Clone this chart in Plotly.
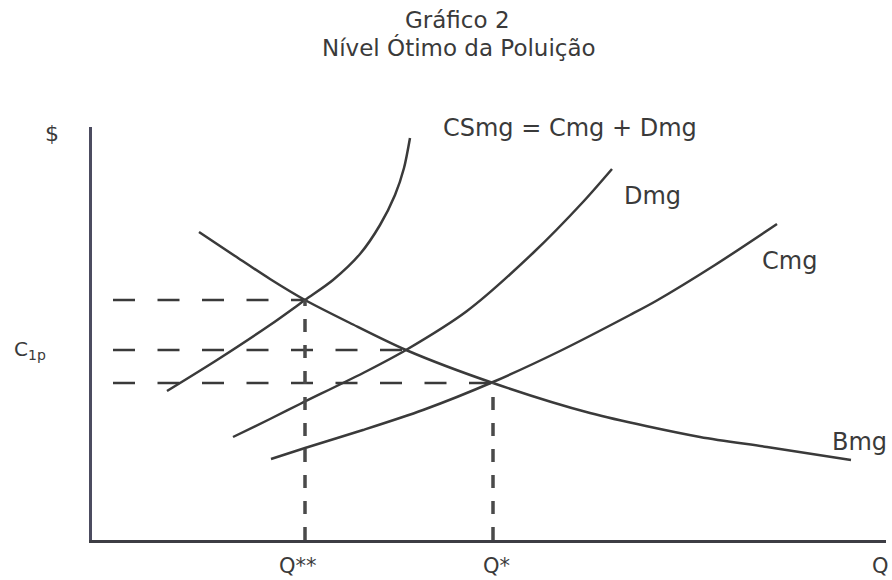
import plotly.graph_objects as go

# ---- data (x = quantity Q, y = $) ----
csmg_x = [7.5, 12.5, 17.8, 21.3, 24.1, 26.8, 28.8, 30.3, 31.2, 31.8]
csmg_y = [14.9, 18.0, 21.5, 24.0, 26.0, 28.6, 31.5, 34.5, 37.2, 40.2]

dmg_x = [14.1, 17.8, 20.8, 27.5, 31.4, 37.5, 44.1, 49.1, 52.0]
dmg_y = [10.3, 12.1, 13.6, 16.9, 19.0, 22.9, 28.7, 33.8, 37.1]

cmg_x = [17.9, 21.3, 27.1, 33.1, 40.1, 46.8, 53.8, 56.4, 62.3, 68.5]
cmg_y = [8.1, 9.2, 11.0, 13.0, 15.8, 18.9, 22.5, 23.9, 27.5, 31.6]

bmg_x = [10.7, 14.3, 17.8, 21.3, 25.8, 31.4, 40.1, 49.8, 60.8, 67.5, 75.9]
bmg_y = [30.8, 28.4, 26.1, 24.0, 21.7, 19.0, 15.7, 12.7, 10.3, 9.3, 8.0]

# intersections (guide lines)
guide_x = [21.3, 31.4, 40.1]
guide_y = [24.0, 19.0, 15.7]
guide_start_x = 2.1
q_marks_x = [21.3, 40.1]
q_marks_y = [24.0, 15.7]

x_max = 79.4
y_max = 41.3

title_lines = ["Gráfico 2", "Nível Ótimo da Poluição"]
curve_labels = ["CSmg = Cmg + Dmg", "Dmg", "Cmg", "Bmg"]
axis_labels = ["$", "C<sub>1p</sub>", "Q**", "Q*", "Q"]

# ---- figure ----
W, H = 892, 580
L, R, T, B = 92, 6, 127, 40
ink = "#3a3a3a"
font_family = "DejaVu Sans"

fig = go.Figure()

line_style = dict(color=ink, width=2.5, shape="spline", smoothing=0.8)
for xs, ys in [(csmg_x, csmg_y), (dmg_x, dmg_y), (cmg_x, cmg_y), (bmg_x, bmg_y)]:
    fig.add_trace(go.Scatter(x=xs, y=ys, mode="lines", line=line_style,
                             hoverinfo="skip", showlegend=False))

# horizontal dashed guides
for gx, gy in zip(guide_x, guide_y):
    fig.add_trace(go.Scatter(x=[guide_start_x, gx], y=[gy, gy], mode="lines",
                             line=dict(color=ink, width=2.5, dash="22px,22.5px"),
                             hoverinfo="skip", showlegend=False))

# vertical dashed guides (drawn from the axis upward)
for qx, qy in zip(q_marks_x, q_marks_y):
    fig.add_trace(go.Scatter(x=[qx, qx], y=[0, qy], mode="lines",
                             line=dict(color="#4a4a4a", width=3.5, dash="13px,13px"),
                             hoverinfo="skip", showlegend=False))


def px2paper(px, py):
    return (px - L) / (W - L - R), (H - B - py) / (H - T - B)


annots = []


def add_text(text, px, py, size=24, xanchor="center"):
    xp, yp = px2paper(px, py)
    annots.append(dict(text=text, x=xp, y=yp, xref="paper", yref="paper",
                       xanchor=xanchor, yanchor="middle", showarrow=False,
                       borderpad=0,
                       font=dict(family=font_family, size=size, color=ink)))


add_text(title_lines[0], 457, 19.5, 23)
add_text(title_lines[1], 459, 47.5, 23)
add_text(curve_labels[0], 570, 128, 24)
add_text(curve_labels[1], 652, 196, 24)
add_text(curve_labels[2], 789, 261, 24)
add_text(curve_labels[3], 859, 442, 24)
add_text(axis_labels[0], 52, 134, 22)
add_text(axis_labels[1], 30, 350, 20)
add_text(axis_labels[2], 298, 566, 21)
add_text(axis_labels[3], 496, 566, 21)
add_text(axis_labels[4], 880, 566, 21)

fig.update_layout(
    width=W, height=H,
    margin=dict(l=L, r=R, t=T, b=B, pad=0),
    paper_bgcolor="white", plot_bgcolor="white",
    showlegend=False,
    annotations=annots,
    xaxis=dict(range=[0, x_max], showgrid=False, zeroline=False,
               showticklabels=False, ticks="", showline=True,
               linecolor="#3d3d44", linewidth=2.5, fixedrange=True),
    yaxis=dict(range=[0, y_max], showgrid=False, zeroline=False,
               showticklabels=False, ticks="", showline=True,
               linecolor="#4c4c60", linewidth=3, fixedrange=True),
)

fig.write_html("out.html",
               config={"displayModeBar": False, "staticPlot": True},
               post_script="document.body.style.margin='0';"
                           "document.body.style.overflow='hidden';")
